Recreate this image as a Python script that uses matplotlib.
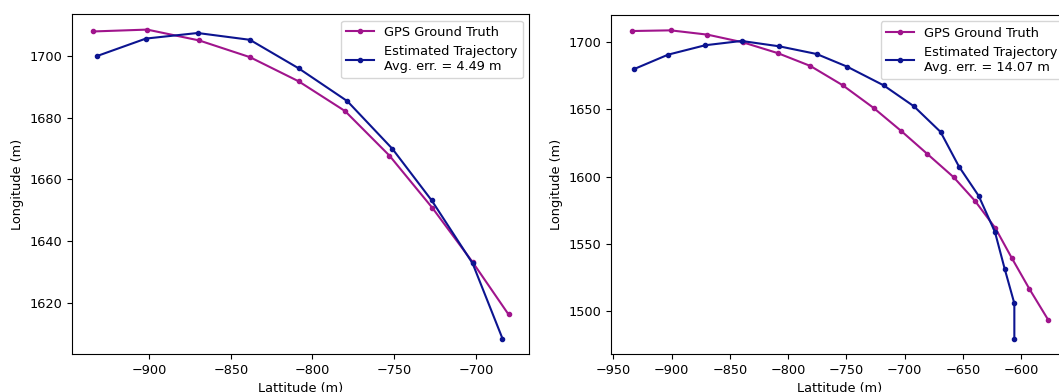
import numpy as np
import matplotlib
matplotlib.use("Agg")
import matplotlib.pyplot as plt

plt.rcParams['font.size'] = 9.3

# left run: GPS ground truth vs estimate (lat, lon in m)
gps_lat_a = [-934.3, -901.2, -869.4, -838.3, -808.5, -780.1, -752.9, -726.6, -702.0, -680.0]
gps_lon_a = [1707.8, 1708.4, 1704.9, 1699.5, 1691.7, 1682.1, 1667.7, 1650.8, 1633.3, 1616.4]
est_lat_a = [-932.2, -902.0, -870.3, -838.3, -808.5, -778.7, -751.1, -727.0, -702.0, -683.7]
est_lon_a = [1699.8, 1705.5, 1707.3, 1705.1, 1695.9, 1685.3, 1669.9, 1653.2, 1632.9, 1608.6]
err_a = 4.49

# right run
gps_lat_b = [-933.9, -900.8, -869.2, -838.9, -809.1, -781.0, -753.2, -726.8,
             -702.8, -680.8, -658.1, -639.8, -622.3, -608.2, -593.1, -577.0]
gps_lon_b = [1708.4, 1708.9, 1705.7, 1700.0, 1692.0, 1682.4, 1668.0, 1651.2,
             1633.8, 1617.0, 1599.6, 1582.0, 1561.7, 1539.4, 1516.4, 1493.4]
est_lat_b = [-932.6, -903.0, -871.2, -840.0, -807.6, -775.6, -749.5, -718.2,
             -692.2, -669.3, -653.5, -636.6, -622.6, -614.3, -606.0, -606.0]
est_lon_b = [1679.9, 1690.8, 1697.8, 1701.0, 1697.0, 1691.3, 1681.9, 1668.0,
             1652.4, 1633.3, 1607.5, 1585.7, 1558.7, 1531.4, 1505.6, 1479.4]
err_b = 14.07

gps_color = "#a0148c"
est_color = "#0c1490"

fig = plt.figure(figsize=(10.59, 3.92), dpi=100)
ax1 = fig.add_axes([0.0683, 0.0969, 0.4315, 0.867])
ax2 = fig.add_axes([0.5772, 0.0969, 0.4322, 0.865])

runs = [(ax1, gps_lat_a, gps_lon_a, est_lat_a, est_lon_a, err_a),
        (ax2, gps_lat_b, gps_lon_b, est_lat_b, est_lon_b, err_b)]

for ax, glat, glon, elat, elon, err in runs:
    ax.plot(glat, glon, marker='.', color=gps_color, label="GPS Ground Truth")
    ax.plot(elat, elon, marker='.', color=est_color,
            label="Estimated Trajectory\nAvg. err. = %.2f m" % err)
    ax.set_xlabel("Lattitude (m)")
    ax.set_ylabel("Longitude (m)")
    ax.legend(loc="upper right", handlelength=2.15)

ax1.set_yticks([1620, 1640, 1660, 1680, 1700])
ax2.set_xticks(np.arange(-950, -599, 50))

fig.savefig("out.png", dpi=100)
